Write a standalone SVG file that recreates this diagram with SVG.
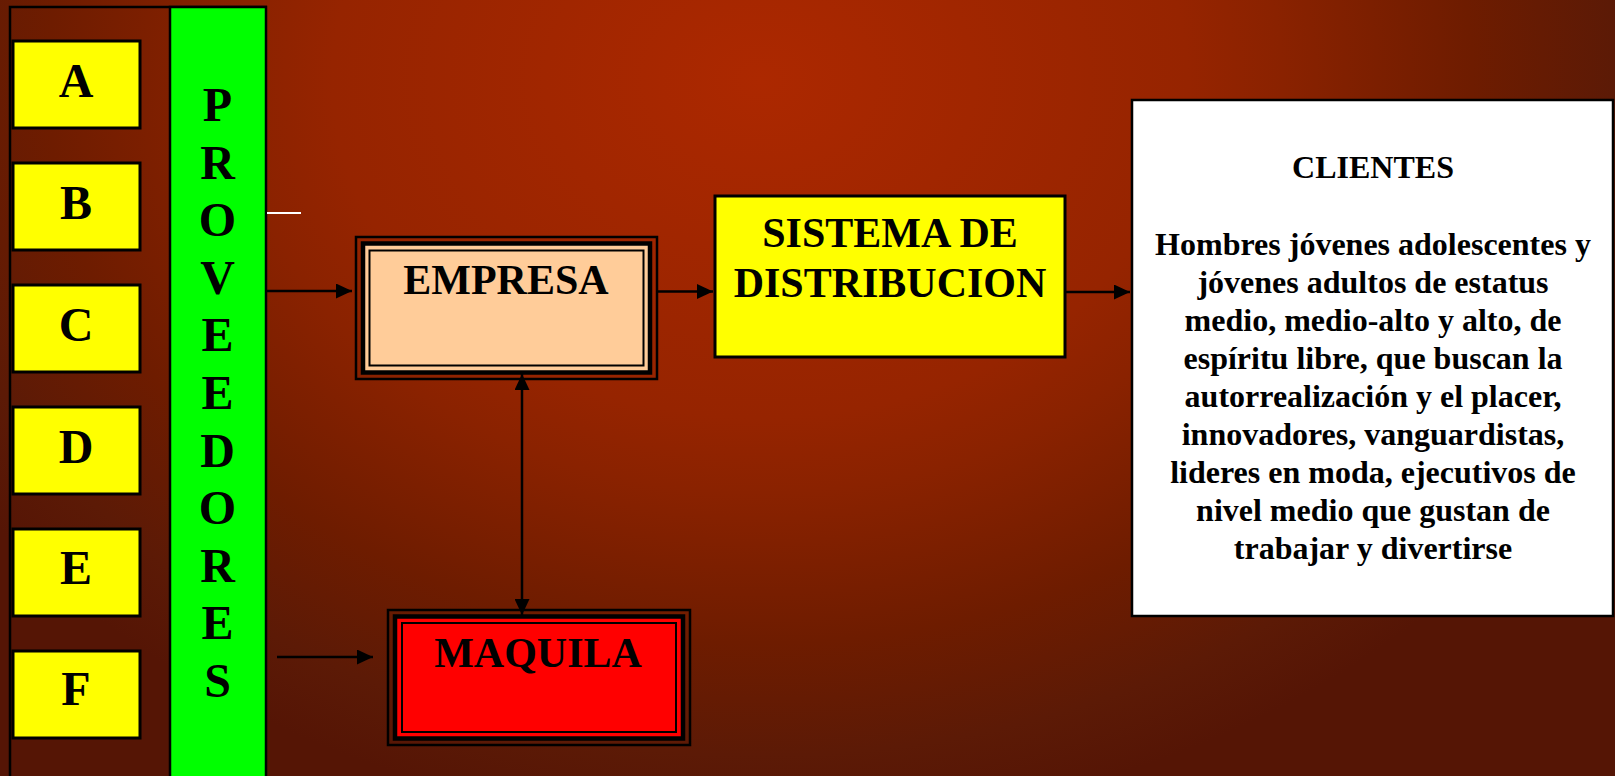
<svg xmlns="http://www.w3.org/2000/svg" width="1615" height="776" viewBox="0 0 1615 776">
  <defs>
    <radialGradient id="bg" gradientUnits="userSpaceOnUse" cx="760" cy="80" r="950" gradientTransform="translate(760 80) scale(1 0.79) translate(-760 -80)">
      <stop offset="0" stop-color="#ac2800"/>
      <stop offset="0.45" stop-color="#962400"/>
      <stop offset="0.55" stop-color="#8a2200"/>
      <stop offset="0.75" stop-color="#6e1c00"/>
      <stop offset="0.9" stop-color="#5c1a06"/>
      <stop offset="1" stop-color="#551505"/>
    </radialGradient>
    <marker id="arr" markerUnits="userSpaceOnUse" markerWidth="16" markerHeight="15" refX="16" refY="7.5" orient="auto-start-reverse">
      <path d="M0,0 L16,7.5 L0,15 Z" fill="#000"/>
    </marker>
    <style>
      .sup { fill: #ffff00; stroke: #000; stroke-width: 3; }
      .big { font-family: "Liberation Serif", "Times New Roman", serif; font-weight: bold; fill: #000; text-anchor: middle; }
      .letter { font-size: 48px; }
      .title { font-size: 42px; }
      .body { font-size: 32px; }
      .conn { stroke: #000; stroke-width: 2.5; fill: none; marker-end: url(#arr); }
      .thin { fill: none; stroke: #000; }
    </style>
  </defs>

  <rect x="0" y="0" width="1615" height="776" fill="url(#bg)"/>

  <!-- supplier frame -->
  <g id="frame">
    <path d="M10,790 L10,7 L267,7" fill="none" stroke="#000" stroke-width="2.5"/>
  </g>

  <g id="node-A"><rect class="sup" x="13" y="41" width="127" height="87"/><text class="big letter" x="76" y="97">A</text></g>
  <g id="node-B"><rect class="sup" x="13" y="163" width="127" height="87"/><text class="big letter" x="76" y="219">B</text></g>
  <g id="node-C"><rect class="sup" x="13" y="285" width="127" height="87"/><text class="big letter" x="76" y="341">C</text></g>
  <g id="node-D"><rect class="sup" x="13" y="407" width="127" height="87"/><text class="big letter" x="76" y="463">D</text></g>
  <g id="node-E"><rect class="sup" x="13" y="529" width="127" height="87"/><text class="big letter" x="76" y="584">E</text></g>
  <g id="node-F"><rect class="sup" x="13" y="651" width="127" height="87"/><text class="big letter" x="76" y="705">F</text></g>

  <g id="node-proveedores">
    <rect x="170" y="7" width="96" height="790" fill="#00ff00" stroke="#000" stroke-width="2.5"/>
    <text class="big letter" x="217.5" y="121">P</text>
    <text class="big letter" x="217.5" y="178.6">R</text>
    <text class="big letter" x="217.5" y="236.2">O</text>
    <text class="big letter" x="217.5" y="293.8">V</text>
    <text class="big letter" x="217.5" y="351.4">E</text>
    <text class="big letter" x="217.5" y="409">E</text>
    <text class="big letter" x="217.5" y="466.6">D</text>
    <text class="big letter" x="217.5" y="524.2">O</text>
    <text class="big letter" x="217.5" y="581.8">R</text>
    <text class="big letter" x="217.5" y="639.4">E</text>
    <text class="big letter" x="217.5" y="697">S</text>
  </g>

  <g id="node-empresa">
    <rect class="thin" x="356" y="237" width="301" height="142" stroke-width="2.5"/>
    <rect x="363" y="243.5" width="287" height="129" fill="#ffcc99" stroke="#000" stroke-width="4.5"/>
    <rect class="thin" x="369.5" y="250.5" width="274" height="115" stroke-width="2"/>
    <text class="big title" x="506" y="294">EMPRESA</text>
  </g>

  <g id="node-maquila">
    <rect class="thin" x="388" y="610" width="302" height="135" stroke-width="2.5"/>
    <rect x="395" y="616.5" width="288" height="122" fill="#ff0000" stroke="#000" stroke-width="4.5"/>
    <rect class="thin" x="402" y="623" width="274" height="109" stroke-width="2"/>
    <text class="big title" x="538" y="667">MAQUILA</text>
  </g>

  <g id="node-distribucion">
    <rect x="715" y="196" width="350" height="161" fill="#ffff00" stroke="#000" stroke-width="3"/>
    <text class="big title" x="890" y="247">SISTEMA DE</text>
    <text class="big title" x="890" y="297">DISTRIBUCION</text>
  </g>

  <g id="node-clientes">
    <rect x="1132" y="100" width="481" height="516" fill="#ffffff" stroke="#000" stroke-width="2.5"/>
    <text class="big body" x="1373" y="178">CLIENTES</text>
    <text class="big body" x="1373" y="255">Hombres jóvenes adolescentes y</text>
    <text class="big body" x="1373" y="293">jóvenes adultos de estatus</text>
    <text class="big body" x="1373" y="331">medio, medio-alto y alto, de</text>
    <text class="big body" x="1373" y="369">espíritu libre, que buscan la</text>
    <text class="big body" x="1373" y="407">autorrealización y el placer,</text>
    <text class="big body" x="1373" y="445">innovadores, vanguardistas,</text>
    <text class="big body" x="1373" y="483">lideres en moda, ejecutivos de</text>
    <text class="big body" x="1373" y="521">nivel medio que gustan de</text>
    <text class="big body" x="1373" y="559">trabajar y divertirse</text>
  </g>

  <g id="connectors">
    <line x1="267" y1="213" x2="301" y2="213" stroke="#ffffff" stroke-width="2"/>
    <line class="conn" x1="267" y1="291" x2="352" y2="291"/>
    <line class="conn" x1="658" y1="291.5" x2="713" y2="291.5"/>
    <line class="conn" x1="1066" y1="292" x2="1130" y2="292"/>
    <line class="conn" x1="522" y1="374" x2="522" y2="615" marker-start="url(#arr)"/>
    <line class="conn" x1="277" y1="657" x2="373" y2="657"/>
  </g>
</svg>
